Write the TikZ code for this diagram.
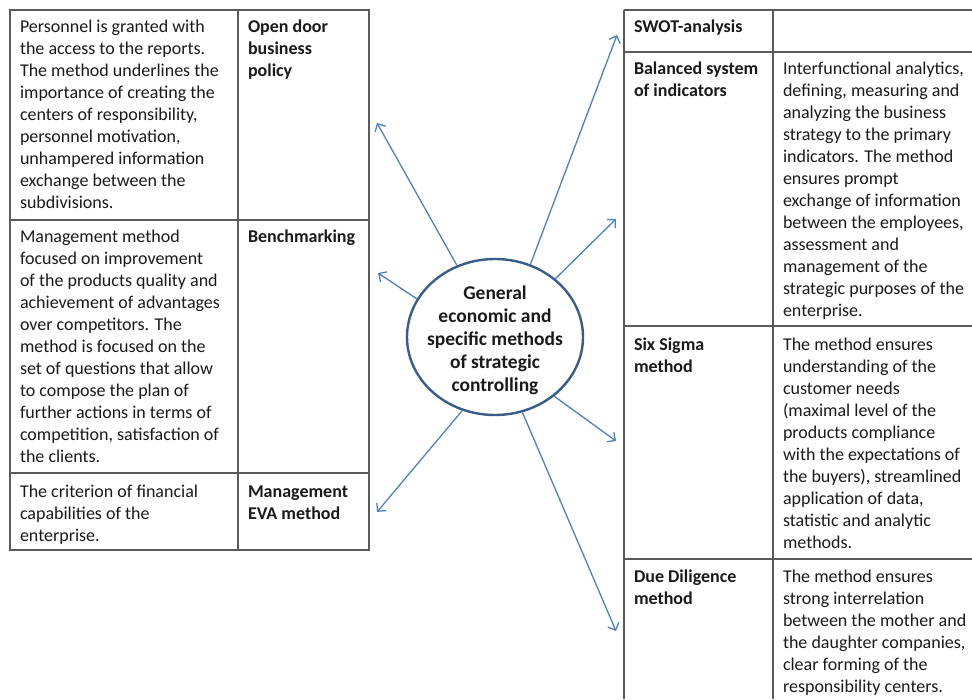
\documentclass[tikz,border=0pt]{standalone}
\usepackage{fontspec}
\setmainfont{Carlito}
\usetikzlibrary{arrows.meta,shapes.geometric}
\definecolor{rulegray}{HTML}{5A5A5A}
\definecolor{ink}{HTML}{1A1A1A}
\definecolor{linkblue}{HTML}{4F81BD}
\definecolor{rim}{HTML}{385D8A}

\begin{document}
\begin{tikzpicture}[x=1pt,y=-1pt,
  grid/.style={draw=rulegray, line width=1.7pt},
  cell/.style={anchor=north west, inner sep=0pt, outer sep=0pt, align=left,
    text=ink, font=\fontsize{18}{22}\selectfont, yshift=15.4pt},
  head/.style={cell, font=\fontsize{18}{22}\selectfont\bfseries},
  hub/.style={ellipse, draw=rim, line width=2.4pt, fill=white,
    minimum width=176pt, minimum height=156pt, inner sep=0pt},
  hubtext/.style={anchor=north, inner sep=0pt, align=center, text=ink,
    font=\fontsize{19.5}{23}\selectfont\bfseries, yshift=16.1pt},
  link/.style={draw=linkblue, line width=1.3pt,
    -{Straight Barb[length=6pt,width=12pt]}}
]
\fill[white] (0,0) rectangle (972,699);
\useasboundingbox (0,0) rectangle (972,699);

% ---- left table ----
\draw[grid] (10,10) rectangle (369,550);
\draw[grid] (238,10) -- (238,550);
\draw[grid] (10,220) -- (369,220);
\draw[grid] (10,473) -- (369,473);

\node[cell] (l1t) at (20,32) {\strut Personnel is granted with\\the access to the reports.\\The method underlines the\\importance of creating the\\centers of responsibility,\\personnel motivation,\\unhampered information\\exchange between the\\subdivisions.};
\node[head] (l1h) at (248,32) {\strut Open door\\business\\policy};

\node[cell] (l2t) at (20,242) {\strut Management method\\focused on improvement\\of the products quality and\\achievement of advantages\\over competitors. The\\method is focused on the\\set of questions that allow\\to compose the plan of\\further actions in terms of\\competition, satisfaction of\\the clients.};
\node[head] (l2h) at (248,242) {\strut Benchmarking};

\node[cell] (l3t) at (20,497) {\strut The criterion of financial\\capabilities of the\\enterprise.};
\node[head] (l3h) at (248,497) {\strut Management\\EVA method};

% ---- right table ----
\draw[grid] (624,10) -- (972,10);
\draw[grid] (624,10) -- (624,699);
\draw[grid] (773,10) -- (773,699);
\draw[grid] (624,52) -- (972,52);
\draw[grid] (624,326) -- (972,326);
\draw[grid] (624,559) -- (972,559);

\node[head] (r1h) at (634,32) {\strut SWOT-analysis};

\node[head] (r2h) at (634,74) {\strut Balanced system\\of indicators};
\node[cell] (r2t) at (783,74) {\strut Interfunctional analytics,\\defining, measuring and\\analyzing the business\\strategy to the primary\\indicators. The method\\ensures prompt\\exchange of information\\between the employees,\\assessment and\\management of the\\strategic purposes of the\\enterprise.};

\node[head] (r3h) at (634,350) {\strut Six Sigma\\method};
\node[cell] (r3t) at (783,350) {\strut The method ensures\\understanding of the\\customer needs\\(maximal level of the\\products compliance\\with the expectations of\\the buyers), streamlined\\application of data,\\statistic and analytic\\methods.};

\node[head] (r4h) at (634,582) {\strut Due Diligence\\method};
\node[cell] (r4t) at (783,582) {\strut The method ensures\\strong interrelation\\between the mother and\\the daughter companies,\\clear forming of the\\responsibility centers.};

% ---- central ellipse and its arrows ----
\node[hub] (core) at (495,337) {};
\node[hubtext] (corelabel) at (495,299) {\strut General\\economic and\\specific methods\\of strategic\\controlling};

\coordinate (t1) at (377,123);
\coordinate (t2) at (378,273);
\coordinate (t3) at (377,512);
\coordinate (t4) at (617,35);
\coordinate (t5) at (616,219);
\coordinate (t6) at (616,441);
\coordinate (t7) at (616,631);

\draw[link] (core.118) -- (t1);
\draw[link] (core.154) -- (t2);
\draw[link] (core.246) -- (t3);
\draw[link] (core.64) -- (t4);
\draw[link] (core.44) -- (t5);
\draw[link] (core.315) -- (t6);
\draw[link] (core.290) -- (t7);
\end{tikzpicture}
\end{document}
